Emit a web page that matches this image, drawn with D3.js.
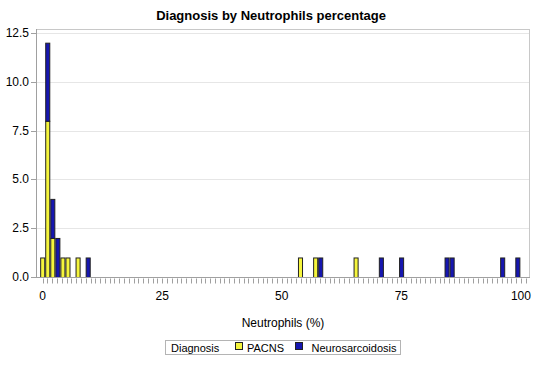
<!DOCTYPE html>
<html>
<head>
<meta charset="utf-8">
<script src="https://cdn.jsdelivr.net/npm/d3@7"></script>
<style>
  body { margin: 0; background: #fff; }
  svg { font-family: "Liberation Sans", Arial, sans-serif; }
</style>
</head>
<body>
<div id="chart"></div>
<script>
// histogram bins (index of bin, bin width in %)
const binWidth = 1.057;
const groups = ["PACNS", "Neurosarcoidosis"];
const colors = ["#f5f53c", "#1616b0"];
const pacnsBins = [0, 1, 2, 4, 5, 7, 51, 54, 62];
const pacnsCounts = [1, 8, 2, 1, 1, 1, 1, 1, 1];
const neuroBins = [1, 2, 3, 9, 55, 67, 71, 80, 81, 91, 94];
const neuroCounts = [4, 2, 2, 1, 1, 1, 1, 1, 1, 1, 1];
const xTicks = [0, 25, 50, 75, 100];
const yTicks = [0, 2.5, 5, 7.5, 10, 12.5];

const W = 543, H = 367;
const margin = { top: 29, right: 13, bottom: 90, left: 36 };
const iw = W - margin.left - margin.right;
const ih = H - margin.top - margin.bottom;

const svg = d3.select("#chart").append("svg")
  .attr("width", W).attr("height", H);

// build stacked table by bin
const allBins = Array.from(new Set(pacnsBins.concat(neuroBins))).sort((a, b) => a - b);
const table = allBins.map(b => {
  const pi = pacnsBins.indexOf(b), ni = neuroBins.indexOf(b);
  return {
    bin: b,
    PACNS: pi >= 0 ? pacnsCounts[pi] : 0,
    Neurosarcoidosis: ni >= 0 ? neuroCounts[ni] : 0
  };
});
const series = d3.stack().keys(groups)(table);

const x = d3.scaleLinear().domain([-1.4, 101.9]).range([0, iw]);
const y = d3.scaleLinear().domain([0, 12.7]).range([ih, 0]);

const g = svg.append("g").attr("transform", `translate(${margin.left},${margin.top})`);

// gridlines
g.append("g").selectAll("line")
  .data(yTicks.filter(d => d > 0))
  .join("line")
  .attr("x1", 0).attr("x2", iw)
  .attr("y1", d => Math.round(y(d)) + 0.5).attr("y2", d => Math.round(y(d)) + 0.5)
  .attr("stroke", "#e6e6e6");

// bars
const bw = x(binWidth) - x(0);
g.append("g").selectAll("g")
  .data(series)
  .join("g")
  .attr("fill", (d, i) => colors[i])
  .selectAll("rect")
  .data(d => d.filter(v => v[1] > v[0]))
  .join("rect")
  .attr("x", d => x(d.data.bin * binWidth) - bw / 2 + 0.5)
  .attr("width", bw - 1)
  .attr("y", d => y(d[1]) + 0.5)
  .attr("height", d => y(d[0]) - y(d[1]))
  .attr("stroke", "#222")
  .attr("stroke-width", 1);

// frame
g.append("rect")
  .attr("x", 0.5).attr("y", 0.5)
  .attr("width", iw - 1).attr("height", ih)
  .attr("fill", "none").attr("stroke", "#c8c8c8");
g.append("line")
  .attr("x1", 0.5).attr("x2", 0.5).attr("y1", 0).attr("y2", ih + 0.5)
  .attr("stroke", "#a0a0a0");
g.append("line")
  .attr("x1", 0).attr("x2", iw).attr("y1", ih + 0.5).attr("y2", ih + 0.5)
  .attr("stroke", "#a0a0a0");

// x axis: minor ticks each unit, labels at 25
const xAxis = g.append("g").attr("transform", `translate(0,${ih + 0.5})`);
xAxis.append("g").selectAll("line")
  .data(d3.range(0, 102, 1))
  .join("line")
  .attr("x1", d => Math.round(x(d)) + 0.5).attr("x2", d => Math.round(x(d)) + 0.5)
  .attr("y1", 1).attr("y2", 6)
  .attr("stroke", "#a0a0a0");
xAxis.append("g").selectAll("text")
  .data(xTicks)
  .join("text")
  .attr("x", d => x(d)).attr("y", 22)
  .attr("text-anchor", "middle")
  .attr("font-size", 12).attr("fill", "#000")
  .text(d => d3.format("d")(d));

// y axis
const yAxis = g.append("g");
yAxis.selectAll("line")
  .data(yTicks)
  .join("line")
  .attr("x1", -5).attr("x2", 0)
  .attr("y1", d => Math.round(y(d)) + 0.5).attr("y2", d => Math.round(y(d)) + 0.5)
  .attr("stroke", "#a0a0a0");
yAxis.selectAll("text")
  .data(yTicks)
  .join("text")
  .attr("x", -7).attr("y", d => y(d) + 4)
  .attr("text-anchor", "end")
  .attr("font-size", 12).attr("fill", "#000")
  .text(d => d3.format(".1f")(d));

// title + axis label
svg.append("text")
  .attr("x", 271).attr("y", 20)
  .attr("text-anchor", "middle")
  .attr("font-size", 13).attr("font-weight", "bold")
  .text("Diagnosis by Neutrophils percentage");

svg.append("text")
  .attr("x", margin.left + iw / 2).attr("y", 327)
  .attr("text-anchor", "middle")
  .attr("font-size", 12)
  .text("Neutrophils (%)");

// legend
const lg = svg.append("g");
lg.append("rect")
  .attr("x", 165.5).attr("y", 340.5).attr("width", 235).attr("height", 14)
  .attr("fill", "none").attr("stroke", "#b4b4b4");
lg.append("text").attr("x", 171).attr("y", 351.5).attr("font-size", 11).text("Diagnosis");
const items = [{ sx: 235.5, tx: 247 }, { sx: 295.5, tx: 311.5 }];
groups.forEach((k, i) => {
  lg.append("rect")
    .attr("x", items[i].sx).attr("y", 342.5).attr("width", 7).attr("height", 7)
    .attr("fill", colors[i]).attr("stroke", "#222");
  lg.append("text").attr("x", items[i].tx).attr("y", 351.5).attr("font-size", 11).text(k);
});
</script>
</body>
</html>
